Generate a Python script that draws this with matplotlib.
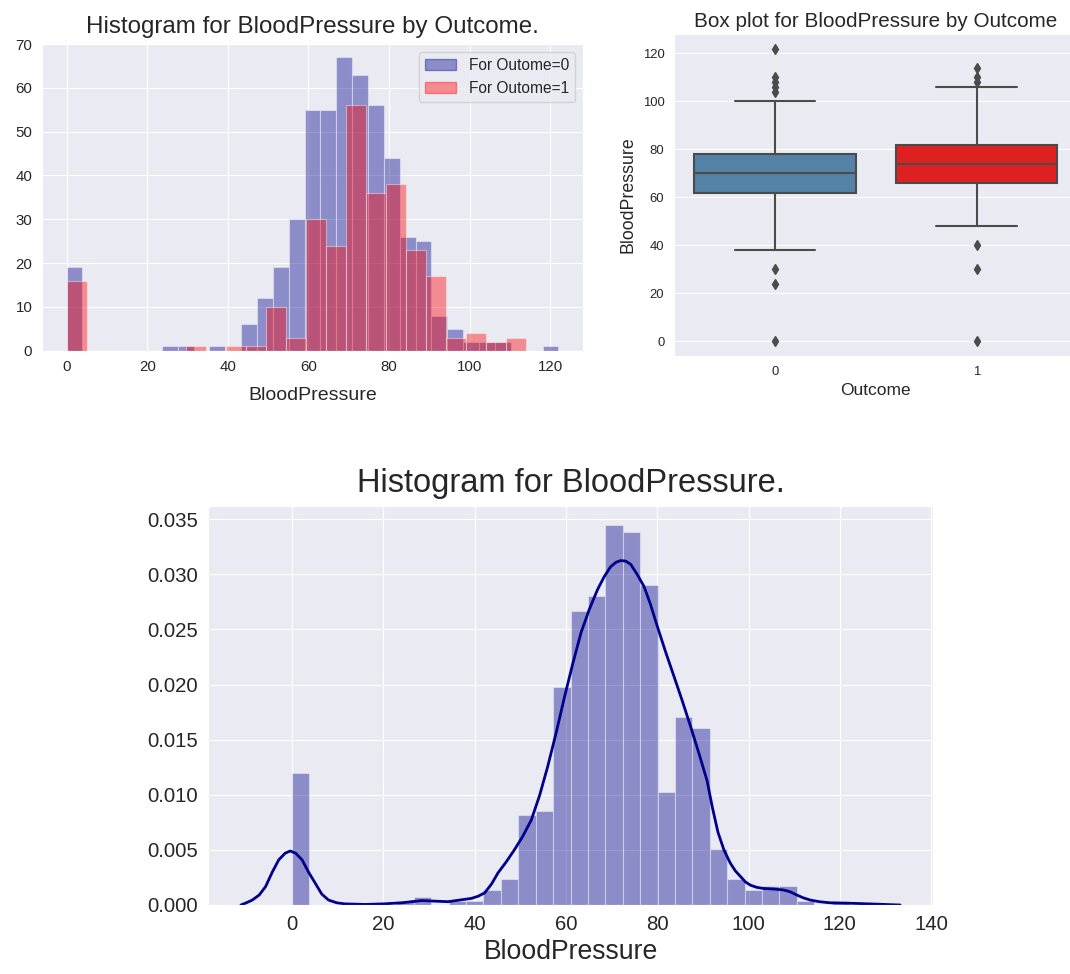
import numpy as np
import matplotlib
matplotlib.use("Agg")
import matplotlib.pyplot as plt
from matplotlib.patches import Patch
import seaborn as sns

# bin counts
# Outcome = 0 : 31 bins over 0..122
range_0 = (0, 122)
counts_outcome0 = [19, 0, 0, 0, 0, 0, 1, 1, 0, 1, 0, 6, 12, 19, 30, 55,
                   55, 67, 63, 56, 44, 26, 25, 8, 5, 2, 2, 2, 0, 0, 1]
# Outcome = 1 : 23 bins over 0..114
range_1 = (0, 114)
counts_outcome1 = [16, 0, 0, 0, 0, 0, 1, 0, 1, 1, 10, 3, 30, 24, 56, 36,
                   38, 23, 17, 3, 4, 2, 3]
# all 768 patients : 32 bins over 0..122
range_all = (0, 122)
counts_all = [35, 0, 0, 0, 0, 0, 1, 2, 0, 1, 1, 4, 7, 24, 25, 58,
              78, 82, 101, 99, 85, 30, 50, 47, 15, 7, 4, 5, 5, 1, 0, 1]

# density curve
kde_x = [-11.2, -10.0, -8.7, -7.2, -5.8, -4.3, -2.9, -1.5, -0.4, 0.8, 2.2,
         3.6, 5.1, 6.5, 8.0, 9.8, 11.6, 16, 20, 24, 28.4, 34.2, 39.3, 40.8,
         42.2, 43.7, 45.1, 46.9, 48.7, 50.5, 52.4, 54.2, 56.0, 57.9, 59.7,
         61.5, 63.3, 65.1, 66.9, 68.4, 69.8, 71.0, 72.0, 73.1, 74.2, 75.6,
         77.1, 78.5, 80.0, 81.8, 83.7, 85.5, 87.3, 89.1, 90.9, 92.1, 93.3,
         94.6, 96.0, 97.1, 98.2, 99.3, 100.4, 101.8, 103.3, 105.5, 107.7,
         109.1, 110.6, 112.0, 113.5, 115.5, 117.8, 122.9, 126.5, 133.2]
kde_y = [0.0, 0.0002, 0.00045, 0.0009, 0.00166, 0.0030, 0.0041, 0.0047,
         0.0049, 0.0047, 0.0041, 0.0030, 0.00197, 0.0010, 0.00045, 0.0002,
         0.0001, 0.00005, 0.0001, 0.0002, 0.0004, 0.0003, 0.0006, 0.0008,
         0.0011, 0.0019, 0.0029, 0.0039, 0.0050, 0.0062, 0.0077, 0.0099,
         0.01255, 0.0157, 0.0189, 0.0219, 0.0247, 0.0268, 0.0286, 0.0298,
         0.0307, 0.0311, 0.03125, 0.0312, 0.0309, 0.0300, 0.0289, 0.0273,
         0.0253, 0.0230, 0.0207, 0.0185, 0.0162, 0.0138, 0.0113, 0.0088,
         0.0066, 0.0050, 0.0038, 0.0031, 0.0026, 0.0021, 0.0018, 0.0016,
         0.0015, 0.00145, 0.00136, 0.0012, 0.0009, 0.00065, 0.00045, 0.0003,
         0.0002, 0.00015, 0.0001, 0.0]

# box plot summary per outcome
outcomes = ["0", "1"]
q1 = [62, 66]
median = [70, 74]
q3 = [78, 82]
whisker_low = [38, 48]
whisker_high = [100, 106]
outliers = [[0, 24, 30, 104, 106, 108, 110, 122],
            [0, 30, 40, 108, 110, 114]]

sns.set_style("darkgrid")
plt.rcParams["font.family"] = ["Liberation Sans", "DejaVu Sans"]
plt.rcParams["text.color"] = ".15"
plt.rcParams["axes.labelcolor"] = ".15"
plt.rcParams["xtick.color"] = ".15"
plt.rcParams["ytick.color"] = ".15"

W, H = 1070, 974
fig = plt.figure(figsize=(W / 100, H / 100), dpi=100)


def px_axes(left, top, right, bottom):
    return fig.add_axes([left / W, 1 - bottom / H, (right - left) / W, (bottom - top) / H])


def edges(rng, n):
    return np.linspace(rng[0], rng[1], n + 1)


# histogram by outcome
ax1 = px_axes(42, 44, 583, 350.7)
e0 = edges(range_0, len(counts_outcome0))
e1 = edges(range_1, len(counts_outcome1))
ax1.bar(e0[:-1], counts_outcome0, width=np.diff(e0), align="edge",
        color="darkblue", alpha=0.4, edgecolor="white", linewidth=0.8)
ax1.bar(e1[:-1], counts_outcome1, width=np.diff(e1), align="edge",
        color="red", alpha=0.4, edgecolor="white", linewidth=0.8)
ax1.set_xlim(-6.1, 128.1)
ax1.set_ylim(0, 70)
ax1.set_xticks(range(0, 121, 20))
ax1.set_yticks(range(0, 71, 10))
ax1.tick_params(labelsize=10.8)
ax1.set_title("Histogram for BloodPressure by Outcome.", fontsize=17.4, pad=8)
ax1.set_xlabel("BloodPressure", fontsize=14, labelpad=9)
handles = [Patch(color="darkblue", alpha=0.4), Patch(color="red", alpha=0.4)]
ax1.legend(handles, ["For Outome=0", "For Outome=1"], loc="upper right",
           fontsize=11.2, frameon=True)

# box plot by outcome
ax2 = px_axes(674, 34, 1077.5, 355.9)
stats = []
for i in range(len(outcomes)):
    stats.append(dict(q1=q1[i], med=median[i], q3=q3[i], whislo=whisker_low[i],
                      whishi=whisker_high[i], fliers=outliers[i]))
gray = "#4b4b4b"
bp = ax2.bxp(stats, positions=[0, 1], widths=0.8, patch_artist=True,
             boxprops=dict(edgecolor=gray, linewidth=1.5),
             medianprops=dict(color=gray, linewidth=1.5),
             whiskerprops=dict(color=gray, linewidth=1.5),
             capprops=dict(color=gray, linewidth=1.5),
             flierprops=dict(marker="d", markerfacecolor=gray, markeredgecolor=gray,
                             markersize=5))
for patch, c in zip(bp["boxes"], ["#5481a6", "#df2020"]):
    patch.set_facecolor(c)
ax2.set_xlim(-0.5, 1.5)
ax2.set_ylim(-6.1, 128.1)
ax2.set_xticks([0, 1])
ax2.set_xticklabels(outcomes)
ax2.set_yticks(range(0, 121, 20))
ax2.tick_params(labelsize=9.4)
ax2.grid(axis="x", visible=False)
ax2.set_title("Box plot for BloodPressure by Outcome", fontsize=14.9, pad=5)
ax2.set_xlabel("Outcome", fontsize=12.5)
ax2.set_ylabel("BloodPressure", fontsize=12.8)

# overall histogram with density curve
ax3 = px_axes(208, 506, 933, 905)
ea = edges(range_all, len(counts_all))
density = np.array(counts_all) / (np.sum(counts_all) * np.diff(ea))
ax3.bar(ea[:-1], density, width=np.diff(ea), align="edge",
        color="darkblue", alpha=0.4, edgecolor="white", linewidth=0.8)
ax3.plot(kde_x, kde_y, color="darkblue", linewidth=2)
ax3.set_xlim(-18.4, 140.4)
ax3.set_ylim(0, 0.0362)
ax3.set_xticks(range(0, 141, 20))
ax3.set_yticks(np.arange(0, 0.0351, 0.005))
ax3.tick_params(labelsize=14.7)
ax3.set_title("Histogram for BloodPressure.", fontsize=23.5, pad=10)
ax3.set_xlabel("BloodPressure", fontsize=19.2)

fig.savefig("out.png", dpi=100)
